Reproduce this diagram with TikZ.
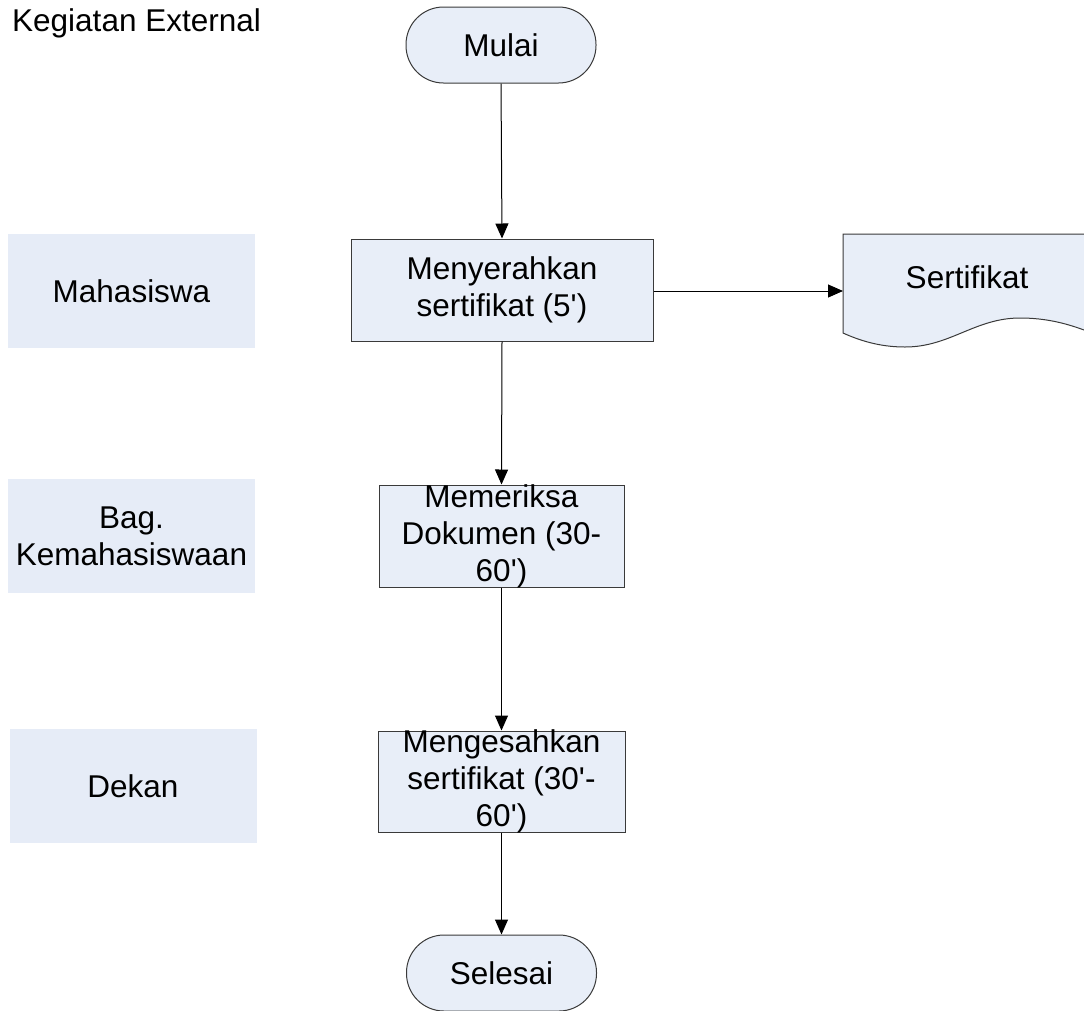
\documentclass[tikz,border=0pt]{standalone}
\usepackage{fontspec}
\setmainfont{Liberation Sans}
\usetikzlibrary{arrows.meta}
\definecolor{boxfill}{HTML}{E8EEF8}
\definecolor{lanefill}{HTML}{E6ECF7}
\definecolor{edge}{HTML}{3A3A3A}
\newcommand{\sq}{\textquotesingle}
\tikzset{
  txt/.style={font=\fontsize{31.5}{37}\selectfont, text=black, align=center, inner sep=0pt},
  lane/.style={txt, fill=lanefill, draw=none, minimum width=247pt, minimum height=114pt},
  proc/.style={fill=boxfill, draw=edge, line width=1pt, inner sep=0pt},
  term/.style={txt, fill=boxfill, draw=edge, line width=1pt, rounded corners=37.5pt,
               minimum width=190pt, minimum height=76pt},
  flow/.style={draw=black, line width=1pt, -{Triangle[length=15pt,width=13pt]}},
}
\begin{document}
\begin{tikzpicture}[x=1pt,y=-1pt]
\useasboundingbox (0,0) rectangle (1084,1010);

% title
\node[txt, anchor=base west] (title) at (12,31) {Kegiatan External};

% lanes
\node[lane] (l1) at (131.5,291) {Mahasiswa};
\node[lane] (l2) at (131.5,536) {Bag.\\Kemahasiswaan};
\node[lane] (l3) at (133,786) {Dekan};

% terminals
\node[term] (start) at (501,45) {Mulai};
\node[term] (end) at (501.5,973) {Selesai};

% processes
\node[proc, minimum width=302pt, minimum height=102pt,
      label={[txt]center:{Menyerahkan\\sertifikat (5\sq)}}] (p1) at (502,290) {};
\node[proc, minimum width=245pt, minimum height=102pt,
      label={[txt]center:{Memeriksa\\Dokumen (30-\\60\sq)}}] (p2) at (501.5,536) {};
\node[proc, minimum width=247pt, minimum height=101pt,
      label={[txt]center:{Mengesahkan\\sertifikat (30\sq-\\60\sq)}}] (p3) at (501.5,781.5) {};

% document
\fill[boxfill] (843,234) -- (1084,234) -- (1084,330)
  .. controls (1065,323) and (1045,318) .. (1020,318)
  .. controls (975,318) and (950,347) .. (905,347)
  .. controls (885,347) and (865,343) .. (843,333) -- cycle;
\draw[edge, line width=1pt] (1084,234) -- (843,234) -- (843,333)
  .. controls (865,343) and (885,347) .. (905,347)
  .. controls (950,347) and (975,318) .. (1020,318)
  .. controls (1045,318) and (1065,323) .. (1084,330);
\node[txt] (doc) at (967,277) {Sertifikat};
\coordinate (docin) at (843,291);

% connectors
\draw[flow] (start.south) -- (p1.north);
\draw[flow] (p1.east |- docin) -- (docin);
\draw[flow] (p1.south) -- (p2.north);
\draw[flow] (p2.south) -- (p3.north);
\draw[flow] (p3.south) -- (end.north);
\end{tikzpicture}
\end{document}
